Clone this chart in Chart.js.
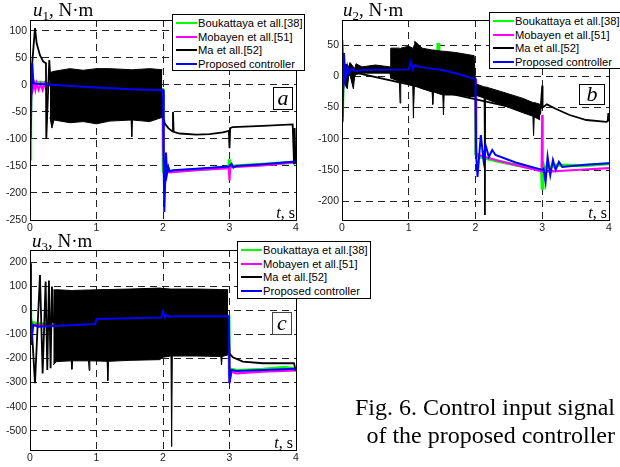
<!DOCTYPE html>
<html>
<head>
<meta charset="utf-8">
<script src="https://cdn.jsdelivr.net/npm/chart.js@4.4.1/dist/chart.umd.min.js"></script>
<style>
  body { margin: 0; background: #fff; }
  #wrap { position: relative; width: 620px; height: 467px; overflow: hidden; background: #fff; }
  canvas { position: absolute; left: 0; top: 0; }
  .ttl { position: absolute; font-family: 'Liberation Serif', 'Times New Roman', serif; font-size: 19px; line-height: 19px; white-space: nowrap; color: #000; }
  .ttl sub { font-size: 0.68em; vertical-align: -0.28em; line-height: 0; }
  .tlab { position: absolute; font-family: 'Liberation Serif', serif; font-size: 16px; line-height: 16px; white-space: nowrap; text-align: right; }
  .tag { position: absolute; box-sizing: border-box; border: 1px solid #000; background: #fff; font-family: 'Liberation Serif', serif; font-style: italic; font-size: 22px; text-align: center; }
  .leg { position: absolute; box-sizing: border-box; border: 1px solid #000; background: #fff; font-family: 'Liberation Sans', Arial, sans-serif; font-size: 11.2px; }
  .leg .row { position: absolute; left: 0; right: 0; height: 14px; line-height: 14px; white-space: nowrap; }
  .leg .ln { position: absolute; left: 3px; width: 21px; top: 6px; height: 2px; }
  .leg .tx { position: absolute; left: 25px; top: 0; }
  #cap { position: absolute; right: 5px; top: 394px; font-family: 'Liberation Serif', 'Times New Roman', serif; font-size: 24px; line-height: 27.5px; text-align: right; white-space: nowrap; }
</style>
</head>
<body>
<div id="wrap">
  <canvas id="ca" width="620" height="467"></canvas>
  <canvas id="cb" width="620" height="467"></canvas>
  <canvas id="cc" width="620" height="467"></canvas>

  <div class="ttl" style="left:33px; top:0px"><i>u</i><sub>1</sub>, N·m</div>
  <div class="ttl" style="left:343px; top:0px"><i>u</i><sub>2</sub>, N·m</div>
  <div class="ttl" style="left:32px; top:231px"><i>u</i><sub>3</sub>, N·m</div>

  <div class="tlab" style="left:270px; top:205px; width:25px"><i>t</i>, s</div>
  <div class="tlab" style="left:582px; top:205px; width:25px"><i>t</i>, s</div>
  <div class="tlab" style="left:268px; top:435px; width:25px"><i>t</i>, s</div>

  <div class="tag" style="left:273px; top:87px; width:20px; height:23px; line-height:20px">a</div>
  <div class="tag" style="left:579px; top:84px; width:26px; height:21px; line-height:18px">b</div>
  <div class="tag" style="left:272px; top:312px; width:20px; height:23px; line-height:20px; border-color:#444">c</div>

  <div class="leg" id="lega" style="left:172px; top:14px; width:133px; height:57px"></div>
  <div class="leg" id="legb" style="left:489px; top:12px; width:132px; height:57px"></div>
  <div class="leg" id="legc" style="left:237px; top:241px; width:134px; height:58px"></div>

  <div id="cap">Fig. 6. Control input signal<br>of the proposed controller</div>
</div>
<script>
// shared axis ticks
const tTicks = [0, 1, 2, 3, 4];
const u1Ticks = [-250, -200, -150, -100, -50, 0, 50, 100];
const u2Ticks = [-200, -150, -100, -50, 0, 50];
const u3Ticks = [-500, -400, -300, -200, -100, 0, 100, 200];

const legendNames = ['Boukattaya et all.[38]', 'Mobayen et all.[51]', 'Ma et all.[52]', 'Proposed controller'];
const legendColors = ['#00ff00', '#ff00ff', '#000000', '#0000ff'];

// ---- u1 ----
const u1BoukT = [0, 0.005, 0.012, 0.03, 0.1, 0.2, 0.3, 1.0, 1.5, 2.0, 2.005, 2.02, 2.05, 2.1, 2.5, 2.99, 3.0, 3.01, 3.1, 3.5, 4.0];
const u1BoukV = [0, -140, 3, 6, 5, 4, 2, -4, -7, -9, -158, -164, -155, -160, -157, -152, -138, -152, -150, -147, -143];
const u1MobT = [0, 0.005, 0.02, 0.04, 0.06, 0.08, 0.1, 0.13, 0.16, 0.19, 0.22, 0.25, 0.28, 0.3, 1.0, 2.0, 2.005, 2.02, 2.05, 2.1, 2.5, 2.99, 3.0, 3.01, 3.5, 4.0];
const u1MobV = [0, -8, 4, -9, 3, -9, 3, -9, 2, -9, 2, -8, 2, 0, -4, -9, -110, -165, -158, -162, -158, -154, -177, -152, -149, -143];
const u1MaT = [0, 0.03, 0.075, 0.1, 0.15, 0.2, 0.24, 0.245, 0.29, 0.32, 1.0, 1.99, 2.0, 2.03, 2.08, 2.14, 2.15, 2.16, 2.25, 2.5, 2.7, 2.9, 2.99, 3.0, 3.01, 3.05, 3.5, 3.95, 3.97, 3.98, 3.99, 4.0];
const u1MaV = [0, 35, 105, 77, 55, 43, 40, -100, 46, -20, -20, -30, -60, -72, -80, -86, -50, -87, -90, -92, -91, -88, -85, -117, -80, -78, -76, -73, -145, -80, -140, -145];
const u1MaBandT = [0.3, 0.33, 0.36, 0.6, 0.8, 1.0, 1.2, 1.52, 1.53, 1.54, 1.8, 1.99];
const u1MaBandHi = [22, 24, 25, 30, 27, 30, 30, 28, 28, 28, 30, 28];
const u1MaBandLo = [-60, -80, -65, -70, -68, -72, -67, -65, -96, -65, -68, -60];
const u1PropT = [0, 0.01, 0.02, 0.035, 0.05, 0.1, 0.5, 1.0, 1.5, 2.0, 2.01, 2.02, 2.045, 2.06, 2.08, 2.1, 2.15, 2.5, 2.99, 3.0, 3.03, 3.06, 3.1, 3.5, 4.0];
const u1PropV = [0, -100, -30, 40, 3, 2, -1, -5, -8, -10, -150, -235, -125, -165, -152, -160, -158, -155, -151, -150, -146, -153, -150, -147, -142];

// ---- u2 ----
const u2BoukT = [0, 0.005, 0.02, 0.05, 0.1, 0.15, 0.3, 1.0, 1.05, 1.1, 1.2, 1.43, 1.44, 1.45, 1.5, 2.0, 2.005, 2.05, 2.1, 2.3, 2.6, 2.99, 3.0, 3.01, 3.05, 3.2, 3.6, 4.0];
const u2BoukV = [0, -65, 20, 5, 12, 8, 10, 11, 20, 14, 15, 12, 53, 12, 10, -5, -125, -128, -130, -135, -142, -150, -179, -140, -148, -142, -143, -140];
const u2MobT = [0, 0.005, 0.02, 0.05, 0.1, 0.3, 1.0, 1.05, 1.2, 1.5, 2.0, 2.005, 2.05, 2.3, 2.6, 2.99, 3.0, 3.005, 3.02, 3.2, 3.5, 4.0];
const u2MobV = [0, 58, 20, 5, 10, 10, 11, 20, 15, 10, -5, -123, -126, -134, -142, -152, -62, -150, -153, -152, -150, -147];
const u2MaT = [0, 0.03, 2.97, 3.0, 3.005, 3.07, 3.2, 3.41, 3.66, 3.96, 3.98, 3.99, 4.0];
const u2MaV = [0, 10, -60, -15, -50, -45, -52, -62, -70, -73, -72, -59, -72];
const u2MaBandT = [0.03, 0.08, 0.1, 0.12, 0.17, 0.19, 0.21, 0.3, 0.5, 0.72, 0.73, 0.86, 0.87, 0.88, 1.0, 1.06, 1.07, 1.08, 1.09, 1.2, 1.35, 1.36, 1.37, 1.51, 1.52, 1.53, 1.7, 1.98, 2.0, 2.13, 2.14, 2.15, 2.4, 2.7, 2.86, 2.87, 2.88, 2.97];
const u2MaBandHi = [20, 18, 15, 22, 15, 12, 20, 15, 18, 15, 45, 45, 44, 45, 48, 45, 45, 50, 56, 45, 42, 42, 42, 40, 40, 40, 38, 33, -12, -17, -17, -17, -25, -35, -42, -42, -42, -45];
const u2MaBandLo = [-10, -20, 0, 2, -20, 0, 3, 5, 5, 5, -3, -8, -43, -8, -12, -15, -67, -15, -15, -20, -25, -45, -25, -30, -62, -30, -30, -33, -30, -35, -222, -36, -46, -58, -64, -95, -65, -70];
const u2PropT = [0, 0.01, 0.03, 0.05, 0.08, 0.1, 0.15, 0.2, 0.3, 1.0, 1.03, 1.06, 1.09, 1.15, 1.5, 1.8, 2.0, 2.01, 2.03, 2.08, 2.12, 2.15, 2.2, 2.25, 2.3, 2.6, 3.0, 3.02, 3.05, 3.08, 3.12, 3.16, 3.2, 3.25, 3.3, 3.6, 4.0];
const u2PropV = [-55, -60, 37, -5, 15, 5, 12, 8, 10, 11, 23, 11, 18, 15, 10, 2, -5, -125, -161, -94, -134, -110, -129, -118, -126, -138, -150, -148, -169, -129, -158, -134, -150, -137, -145, -142, -139];

// ---- u3 ----
const u3BoukT = [0, 0.01, 0.03, 0.1, 0.3, 1.0, 1.01, 2.0, 2.01, 2.05, 2.1, 2.2, 2.99, 3.0, 3.02, 3.1, 3.5, 3.8, 4.0];
const u3BoukV = [0, -60, -50, -55, -60, -55, -35, -30, -8, -25, -28, -25, -25, -280, -245, -250, -245, -238, -242];
const u3MobT = [0, 0.01, 0.03, 0.1, 0.3, 1.0, 1.01, 2.0, 2.01, 2.05, 2.2, 2.99, 3.0, 3.02, 3.1, 3.5, 4.0];
const u3MobV = [0, -60, -65, -60, -62, -55, -35, -30, -8, -25, -25, -25, -300, -255, -262, -255, -250];
const u3MaT = [0, 0.075, 0.15, 0.19, 0.235, 0.26, 0.285, 0.31, 0.33, 0.35, 2.97, 2.98, 3.0, 3.05, 3.2, 3.5, 3.97, 3.99, 4.0];
const u3MaV = [50, -303, 146, -262, 119, -248, 123, -241, 98, -50, -50, -50, -180, -195, -213, -220, -220, -245, -240];
const u3MaBandT = [0.35, 0.4, 0.62, 0.63, 0.64, 0.88, 0.89, 0.9, 1.16, 1.17, 1.18, 1.5, 1.95, 2.0, 2.12, 2.13, 2.14, 2.5, 2.87, 2.88, 2.89, 2.98];
const u3MaBandHi = [84, 85, 82, 82, 82, 84, 84, 84, 86, 86, 86, 88, 92, 90, 88, 88, 88, 88, 86, 86, 86, 85];
const u3MaBandLo = [-227, -213, -210, -245, -210, -210, -250, -210, -212, -292, -212, -208, -205, -195, -190, -566, -190, -190, -192, -227, -192, -185];
const u3PropT = [0, 0.015, 0.05, 0.125, 0.375, 0.98, 1.0, 1.5, 1.97, 2.0, 2.03, 2.05, 2.1, 2.2, 2.99, 3.0, 3.03, 3.1, 3.5, 4.0];
const u3PropV = [195, -144, -61, -68, -65, -57, -36, -33, -30, -5, -30, -20, -27, -25, -25, -303, -248, -252, -248, -243];

const pts = (t, v) => t.map((x, i) => ({ x: x, y: v[i] }));

const frame = {
  id: 'frame',
  afterDraw(chart) {
    const a = chart.chartArea, ctx = chart.ctx;
    ctx.save();
    ctx.strokeStyle = '#000';
    ctx.lineWidth = 1;
    ctx.strokeRect(Math.round(a.left) + 0.5, Math.round(a.top) + 0.5, Math.round(a.right - a.left), Math.round(a.bottom - a.top));
    ctx.restore();
  }
};

function panel(id, plot, yMin, yMax, yTicks, s) {
  const line = (data, color, w) => ({ data: data, borderColor: color, borderWidth: w, pointRadius: 0, tension: 0, fill: false });
  const bandHi = line(pts(s.bandT, s.bandHi), '#000', 1);
  bandHi.fill = '+1';
  bandHi.backgroundColor = '#000';
  new Chart(document.getElementById(id), {
    type: 'line',
    data: {
      datasets: [
        line(pts(s.propT, s.propV), '#0000ff', 2),
        line(pts(s.maT, s.maV), '#000', 1.8),
        bandHi,
        line(pts(s.bandT, s.bandLo), '#000', 1),
        line(pts(s.mobT, s.mobV), '#ff00ff', 2.2),
        line(pts(s.boukT, s.boukV), '#00ff00', 3.2)
      ]
    },
    options: {
      responsive: false,
      animation: false,
      events: [],
      layout: { padding: { left: plot.l - 30, top: plot.t, right: 620 - plot.r, bottom: 467 - plot.b - 20 } },
      plugins: { legend: { display: false }, tooltip: { enabled: false } },
      scales: {
        x: {
          type: 'linear', min: 0, max: 4,
          afterBuildTicks: sc => { sc.ticks = tTicks.map(v => ({ value: v })); },
          afterFit: sc => { sc.height = 20; },
          grid: { color: '#222', lineWidth: 1, drawTicks: false },
          border: { display: false, dash: [7, 5] },
          ticks: { padding: 2, color: '#222', font: { family: 'Liberation Sans', size: 10.5 }, maxRotation: 0 }
        },
        y: {
          type: 'linear', min: yMin, max: yMax,
          afterBuildTicks: sc => { sc.ticks = yTicks.map(v => ({ value: v })); },
          afterFit: sc => { sc.width = 30; },
          grid: { color: '#222', lineWidth: 1, drawTicks: false },
          border: { display: false, dash: [7, 5] },
          ticks: { padding: 3, color: '#222', font: { family: 'Liberation Sans', size: 10.5 } }
        }
      }
    },
    plugins: [frame]
  });
}

panel('ca', { l: 30, t: 20, r: 296, b: 220 }, -250, 120, u1Ticks, {
  boukT: u1BoukT, boukV: u1BoukV, mobT: u1MobT, mobV: u1MobV, maT: u1MaT, maV: u1MaV,
  bandT: u1MaBandT, bandHi: u1MaBandHi, bandLo: u1MaBandLo, propT: u1PropT, propV: u1PropV
});
panel('cb', { l: 342, t: 20, r: 609, b: 220 }, -230, 90, u2Ticks, {
  boukT: u2BoukT, boukV: u2BoukV, mobT: u2MobT, mobV: u2MobV, maT: u2MaT, maV: u2MaV,
  bandT: u2MaBandT, bandHi: u2MaBandHi, bandLo: u2MaBandLo, propT: u2PropT, propV: u2PropV
});
panel('cc', { l: 30, t: 250, r: 296, b: 450 }, -580, 250, u3Ticks, {
  boukT: u3BoukT, boukV: u3BoukV, mobT: u3MobT, mobV: u3MobV, maT: u3MaT, maV: u3MaV,
  bandT: u3MaBandT, bandHi: u3MaBandHi, bandLo: u3MaBandLo, propT: u3PropT, propV: u3PropV
});

// legends
['lega', 'legb', 'legc'].forEach(id => {
  const box = document.getElementById(id);
  legendNames.forEach((name, i) => {
    const row = document.createElement('div');
    row.className = 'row';
    row.style.top = Math.round(1 + i * 13.7) + 'px';
    row.innerHTML = '<div class="ln" style="background:' + legendColors[i] + '"></div><span class="tx">' + name + '</span>';
    box.appendChild(row);
  });
});
</script>
</body>
</html>
